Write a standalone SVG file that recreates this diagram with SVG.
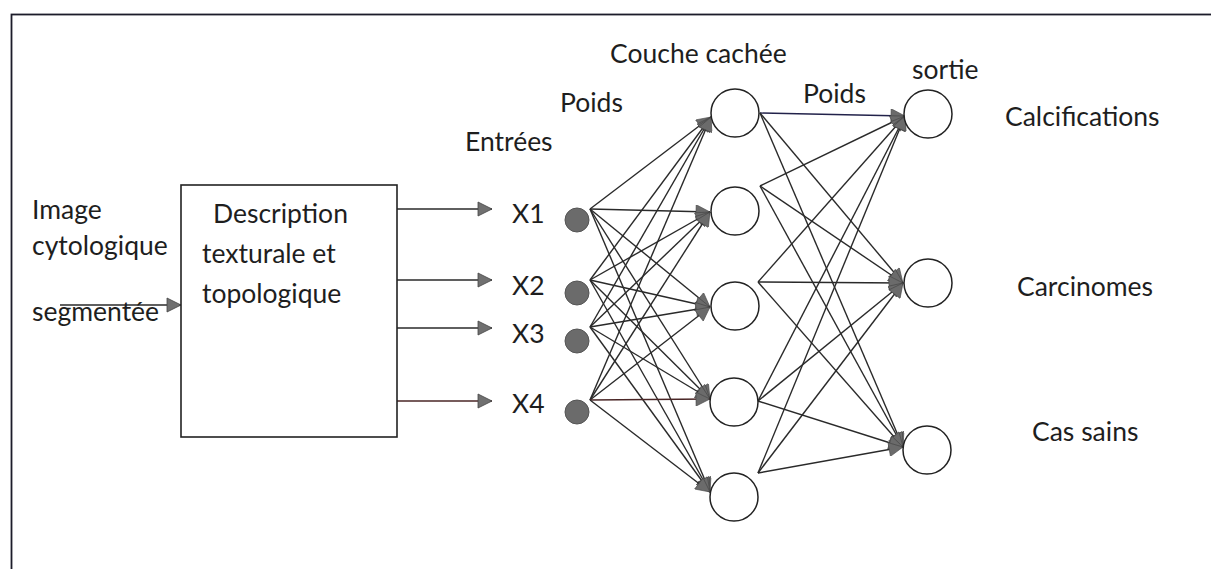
<svg xmlns="http://www.w3.org/2000/svg" width="1211" height="569" viewBox="0 0 1211 569">
<defs>
<style>
text{font-family:Lato,"Liberation Sans",sans-serif;font-size:26.5px;fill:#1e1e1e}
.ln{stroke:#2a2a2a;stroke-width:1.4;fill:none}
.frame{stroke:#1c1c2a;stroke-width:1.8;fill:none}
.box{stroke:#222;stroke-width:1.6;fill:#fff}
.hid{stroke:#222;stroke-width:1.5;fill:#fff}
.dot{stroke:#555;stroke-width:1;fill:#6b6b6b}
</style>
<marker id="arr" markerUnits="userSpaceOnUse" markerWidth="16" markerHeight="16" refX="15" refY="7" orient="auto" viewBox="0 0 16 14">
<path d="M1,0 L15,7 L1,14 z" fill="#707070" stroke="#444" stroke-width="0.8"/>
</marker>
<marker id="arrs" markerUnits="userSpaceOnUse" markerWidth="16" markerHeight="14" refX="15" refY="7" orient="auto" viewBox="0 0 16 14">
<path d="M1,0 L15,7 L1,14 z" fill="#6b6b6b" stroke="#444" stroke-width="0.6"/>
</marker>
</defs>
<rect width="1211" height="569" fill="#fff"/>
<rect class="frame" x="11.5" y="14.5" width="1300" height="700"/>

<g id="connectors">
<line class="ln" x1="60" y1="305" x2="181" y2="305" marker-end="url(#arr)"/>
<line class="ln" x1="397" y1="209" x2="492" y2="209" marker-end="url(#arr)"/>
<line class="ln" x1="397" y1="280" x2="492" y2="280" marker-end="url(#arr)"/>
<line class="ln" x1="397" y1="328" x2="492" y2="328" marker-end="url(#arr)"/>
<line class="ln" x1="397" y1="401" x2="492" y2="401" marker-end="url(#arr)" style="stroke:#4a2626"/>
<g id="in-hid">
<line class="ln" x1="590" y1="209" x2="711" y2="117" marker-end="url(#arrs)"/>
<line class="ln" x1="590" y1="209" x2="710" y2="212" marker-end="url(#arrs)"/>
<line class="ln" x1="590" y1="209" x2="710" y2="307" marker-end="url(#arrs)"/>
<line class="ln" x1="590" y1="209" x2="710" y2="399" marker-end="url(#arrs)"/>
<line class="ln" x1="590" y1="209" x2="710" y2="492" marker-end="url(#arrs)"/>
<line class="ln" x1="590" y1="280" x2="711" y2="117" marker-end="url(#arrs)"/>
<line class="ln" x1="590" y1="280" x2="710" y2="212" marker-end="url(#arrs)"/>
<line class="ln" x1="590" y1="280" x2="710" y2="307" marker-end="url(#arrs)"/>
<line class="ln" x1="590" y1="280" x2="710" y2="399" marker-end="url(#arrs)"/>
<line class="ln" x1="590" y1="280" x2="710" y2="492" marker-end="url(#arrs)"/>
<line class="ln" x1="590" y1="327" x2="711" y2="117" marker-end="url(#arrs)"/>
<line class="ln" x1="590" y1="327" x2="710" y2="212" marker-end="url(#arrs)"/>
<line class="ln" x1="590" y1="327" x2="710" y2="307" marker-end="url(#arrs)"/>
<line class="ln" x1="590" y1="327" x2="710" y2="399" marker-end="url(#arrs)"/>
<line class="ln" x1="590" y1="327" x2="710" y2="492" marker-end="url(#arrs)"/>
<line class="ln" x1="590" y1="400" x2="711" y2="117" marker-end="url(#arrs)"/>
<line class="ln" x1="590" y1="400" x2="710" y2="212" marker-end="url(#arrs)"/>
<line class="ln" x1="590" y1="400" x2="710" y2="307" marker-end="url(#arrs)"/>
<line class="ln" x1="590" y1="400" x2="710" y2="399" marker-end="url(#arrs)" style="stroke:#4a2626"/>
<line class="ln" x1="590" y1="400" x2="710" y2="492" marker-end="url(#arrs)"/>
</g>
<g id="hid-out">
<line class="ln" x1="760" y1="113" x2="905" y2="116" marker-end="url(#arrs)" style="stroke:#22224a"/>
<line class="ln" x1="760" y1="113" x2="903" y2="283" marker-end="url(#arrs)"/>
<line class="ln" x1="760" y1="113" x2="903" y2="447" marker-end="url(#arrs)"/>
<line class="ln" x1="760" y1="186" x2="905" y2="116" marker-end="url(#arrs)"/>
<line class="ln" x1="760" y1="186" x2="903" y2="283" marker-end="url(#arrs)"/>
<line class="ln" x1="760" y1="186" x2="903" y2="447" marker-end="url(#arrs)"/>
<line class="ln" x1="758" y1="282" x2="905" y2="116" marker-end="url(#arrs)"/>
<line class="ln" x1="758" y1="282" x2="903" y2="283" marker-end="url(#arrs)"/>
<line class="ln" x1="758" y1="282" x2="903" y2="447" marker-end="url(#arrs)"/>
<line class="ln" x1="758" y1="401" x2="905" y2="116" marker-end="url(#arrs)"/>
<line class="ln" x1="758" y1="401" x2="903" y2="283" marker-end="url(#arrs)"/>
<line class="ln" x1="758" y1="401" x2="903" y2="447" marker-end="url(#arrs)"/>
<line class="ln" x1="758" y1="473" x2="905" y2="116" marker-end="url(#arrs)"/>
<line class="ln" x1="758" y1="473" x2="903" y2="283" marker-end="url(#arrs)"/>
<line class="ln" x1="758" y1="473" x2="903" y2="447" marker-end="url(#arrs)"/>
</g>
</g>

<g id="labels-left">
<text x="32" y="219">Image</text>
<text x="32" y="255">cytologique</text>
<text x="32" y="321">segmentée</text>
</g>

<g id="box-description">
<rect class="box" x="181" y="185" width="216" height="252"/>
<text x="213" y="223">Description</text>
<text x="202" y="263">texturale et</text>
<text x="202" y="303">topologique</text>
</g>

<g id="input-x1"><text x="512" y="223">X1</text><circle class="dot" cx="577" cy="220" r="12"/></g>
<g id="input-x2"><text x="512" y="295">X2</text><circle class="dot" cx="577" cy="293" r="12"/></g>
<g id="input-x3"><text x="512" y="343">X3</text><circle class="dot" cx="577" cy="341" r="12"/></g>
<g id="input-x4"><text x="512" y="413">X4</text><circle class="dot" cx="577" cy="412" r="12"/></g>

<g id="hidden-1"><circle class="hid" cx="735" cy="113" r="24"/></g>
<g id="hidden-2"><circle class="hid" cx="735" cy="211" r="24"/></g>
<g id="hidden-3"><circle class="hid" cx="735" cy="306" r="24"/></g>
<g id="hidden-4"><circle class="hid" cx="734" cy="402" r="24"/></g>
<g id="hidden-5"><circle class="hid" cx="734" cy="497" r="24"/></g>

<g id="output-1"><circle class="hid" cx="928" cy="114" r="24"/><text x="1005" y="126">Calcifications</text></g>
<g id="output-2"><circle class="hid" cx="928" cy="283" r="24"/><text x="1017" y="296">Carcinomes</text></g>
<g id="output-3"><circle class="hid" cx="927" cy="450" r="24"/><text x="1032" y="441">Cas sains</text></g>

<g id="headers">
<text x="465" y="151">Entrées</text>
<text x="560" y="112">Poids</text>
<text x="610" y="63">Couche cachée</text>
<text x="803" y="103">Poids</text>
<text x="912" y="79">sortie</text>
</g>
</svg>
